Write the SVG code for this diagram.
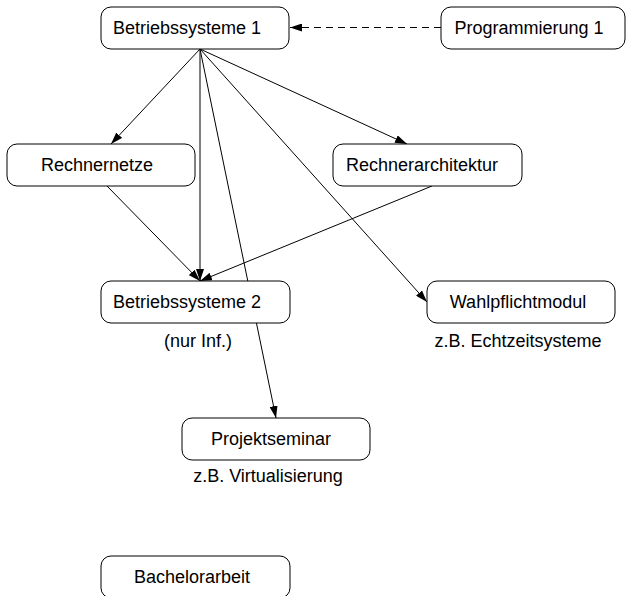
<svg xmlns="http://www.w3.org/2000/svg" width="627" height="596" viewBox="0 0 627 596">
<style>
.box{fill:#fff;stroke:#000;stroke-width:1}
.t{font-family:"Liberation Sans",Arial,sans-serif;font-size:18px;fill:#000;text-anchor:middle}
.e{stroke:#000;stroke-width:1;fill:none;marker-end:url(#ah)}
.d{stroke-dasharray:7,5}
</style>
<defs>
<marker id="ah" viewBox="0 0 12 8" refX="12" refY="4" markerWidth="12" markerHeight="8" markerUnits="userSpaceOnUse" orient="auto">
<path d="M0,0 L12,4 L0,8 Z" fill="#000"/>
</marker>
</defs>
<g id="connectors">
<line class="e d" x1="441" y1="27.5" x2="290" y2="27.5"/>
<line class="e" x1="200" y1="49" x2="111" y2="144"/>
<line class="e" x1="200" y1="49" x2="407" y2="144"/>
<line class="e" x1="200" y1="49" x2="200" y2="281"/>
<line class="e" x1="200" y1="49" x2="427" y2="302"/>
<line class="e" x1="200" y1="49" x2="276" y2="418"/>
<line class="e" x1="107" y1="186" x2="200" y2="281"/>
<line class="e" x1="432" y1="186" x2="200" y2="281"/>
</g>
<g id="bs1"><rect class="box" x="101" y="7" width="188" height="42" rx="10"/><text class="t" x="187" y="34">Betriebssysteme 1</text></g>
<g id="prog1"><rect class="box" x="441" y="7" width="184" height="42" rx="10"/><text class="t" x="529" y="34">Programmierung 1</text></g>
<g id="rn"><rect class="box" x="7" y="144" width="188" height="42" rx="10"/><text class="t" x="97" y="171">Rechnernetze</text></g>
<g id="ra"><rect class="box" x="333" y="144" width="189" height="42" rx="10"/><text class="t" x="422" y="171">Rechnerarchitektur</text></g>
<g id="bs2"><rect class="box" x="101" y="281" width="189" height="42" rx="10"/><text class="t" x="187" y="308">Betriebssysteme 2</text><text class="t" x="198" y="347">(nur Inf.)</text></g>
<g id="wpm"><rect class="box" x="427" y="281" width="188" height="42" rx="10"/><text class="t" x="518" y="308">Wahlpflichtmodul</text><text class="t" x="518" y="347">z.B. Echtzeitsysteme</text></g>
<g id="ps"><rect class="box" x="182" y="418" width="188" height="42" rx="10"/><text class="t" x="271" y="445">Projektseminar</text><text class="t" x="268" y="482">z.B. Virtualisierung</text></g>
<g id="ba"><rect class="box" x="101" y="556" width="189" height="42" rx="10"/><text class="t" x="192" y="583">Bachelorarbeit</text></g>
</svg>
